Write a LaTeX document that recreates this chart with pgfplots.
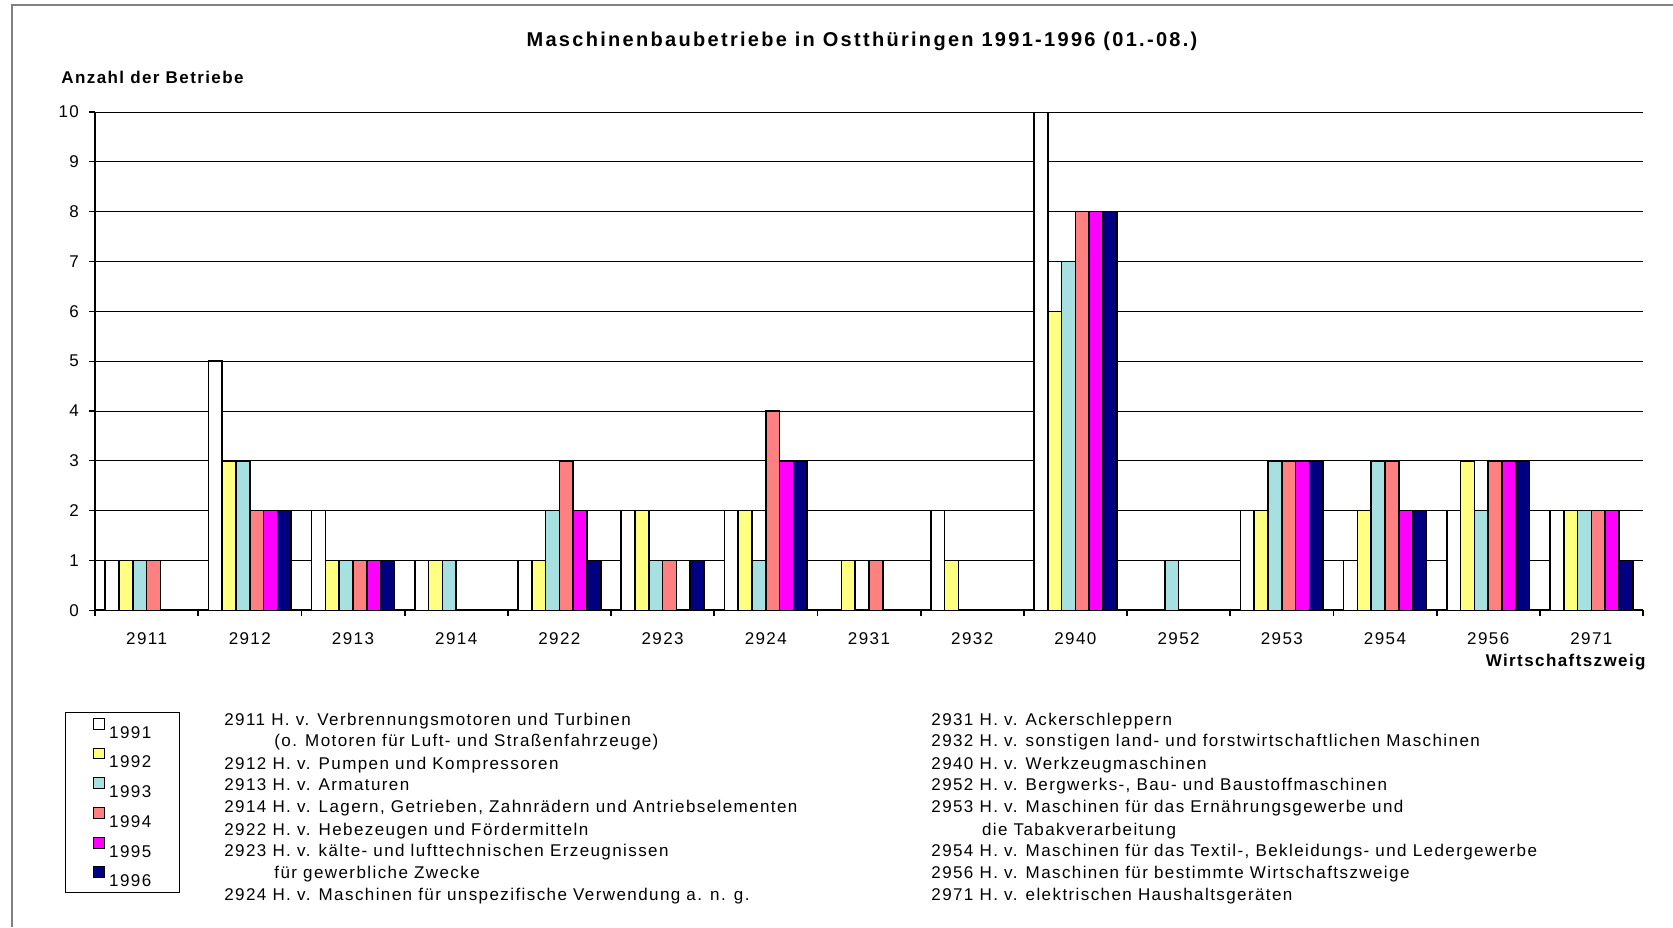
\documentclass[border=0pt]{standalone}
\usepackage{fontspec}
\setmainfont{Liberation Sans}
\newfontfamily\lsfont[LetterSpace=8.3]{Liberation Sans}
\usepackage{pgfplots}
\pgfplotsset{compat=1.18}
\usepackage{pgfplotstable}

\definecolor{c91}{HTML}{FFFFFF}
\definecolor{c92}{HTML}{FFFF80}
\definecolor{c93}{HTML}{A6E0E0}
\definecolor{c94}{HTML}{FF8080}
\definecolor{c95}{HTML}{FF00FF}
\definecolor{c96}{HTML}{000080}
\definecolor{framegray}{HTML}{808080}

\newcommand\tf{\lsfont\fontsize{8.5}{10.95}\selectfont}
\newcommand\bft{\lsfont\bfseries\fontsize{8.5}{10}\selectfont}

\pgfplotstableread{
x y1991 y1992 y1993 y1994 y1995 y1996
0 1 1 1 1 0 0
1 5 3 3 2 2 2
2 2 1 1 1 1 1
3 1 1 1 0 0 0
4 1 1 2 3 2 1
5 2 2 1 1 0 1
6 2 2 1 4 3 3
7 0 1 0 1 0 0
8 2 1 0 0 0 0
9 10 6 7 8 8 8
10 0 0 1 0 0 0
11 2 2 3 3 3 3
12 1 2 3 3 2 2
13 2 3 2 3 3 3
14 2 2 2 2 2 1
}\datatable

\begin{document}
\begin{tikzpicture}[x=1pt,y=1pt]
\path[use as bounding box] (0,0) rectangle (836.5,463.5);
\draw[framegray, line width=0.8pt] (6,0) -- (6,461) -- (836.5,461);
\begin{axis}[
  at={(47.5pt,158.35pt)}, anchor=south west,
  scale only axis, width=774pt, height=249.15pt,
  ybar=0pt, bar width=6.9pt,
  xmin=-0.5, xmax=14.5, ymin=0, ymax=10,
  xtick={0,...,14},
  xticklabels={\mbox{2911},\mbox{2912},\mbox{2913},\mbox{2914},\mbox{2922},\mbox{2923},\mbox{2924},\mbox{2931},\mbox{2932},\mbox{2940},\mbox{2952},\mbox{2953},\mbox{2954},\mbox{2956},\mbox{2971}},
  major x tick style={draw=none},
  minor xtick={-0.5,0.5,...,14.5},
  minor x tick style={draw=black, line width=0.9pt},
  minor tick length=3pt,
  ytick={0,...,10},
  major tick length=3pt,
  y tick style={draw=black, line width=0.6pt},
  tick align=outside,
  axis x line*=bottom, axis y line*=left,
  axis line style={-, line width=0.9pt},
  ymajorgrids, grid style={black, line width=0.45pt},
  /pgf/number format/assume math mode=true,
  ticklabel style={font=\tf},
  xticklabel style={anchor=base, yshift=-14pt},
  yticklabel style={anchor=east, xshift=-1.5pt},
  legend style={at={(axis description cs:-0.0194,-0.204)}, anchor=north west,
    draw=black, line width=0.4pt, font=\tf,
    nodes={inner sep=0pt, text height=6.2pt, text depth=0pt},
    row sep=4.7pt, column sep=2pt, inner xsep=14pt, inner ysep=2.8pt},
  legend cell align=left,
  legend image code/.code={\draw[#1, draw=black, line width=0.5pt] (0pt,1.4pt) rectangle (5.4pt,6.8pt);},
]
\addplot[fill=c91, draw=black, line width=0.8pt] table[x=x,y=y1991] {\datatable};
\addplot[fill=c92, draw=black, line width=0.8pt] table[x=x,y=y1992] {\datatable};
\addplot[fill=c93, draw=black, line width=0.8pt] table[x=x,y=y1993] {\datatable};
\addplot[fill=c94, draw=black, line width=0.8pt] table[x=x,y=y1994] {\datatable};
\addplot[fill=c95, draw=black, line width=0.8pt] table[x=x,y=y1995] {\datatable};
\addplot[fill=c96, draw=black, line width=0.8pt] table[x=x,y=y1996] {\datatable};
\legend{1991,1992,1993,1994,1995,1996}
\end{axis}
\node[anchor=base, inner sep=0pt] at (431,440.2) {\lsfont\bfseries\fontsize{10}{12}\selectfont\addfontfeature{LetterSpace=11.5}Maschinenbaubetriebe in Ostthüringen 1991-1996 (01.-08.)};
\node[anchor=base west, inner sep=0pt] at (30.5,421.95) {\bft Anzahl der Betriebe};
\node[anchor=base east, inner sep=0pt] at (823,130.2) {\bft Wirtschaftszweig};
% left column
\begin{scope}[every node/.style={anchor=base west, inner sep=0pt, font=\tf}]
\node at (112,100.9) {2911 H. v. Verbrennungsmotoren und Turbinen};
\node at (137,90.25) {(o. Motoren für Luft- und Straßenfahrzeuge)};
\node at (112,79.0) {2912 H. v. Pumpen und Kompressoren};
\node at (112,68.35) {2913 H. v. Armaturen};
\node at (112,57.15) {2914 H. v. Lagern, Getrieben, Zahnrädern und Antriebselementen};
\node at (112,45.95) {2922 H. v. Hebezeugen und Fördermitteln};
\node at (112,35.25) {2923 H. v. kälte- und lufttechnischen Erzeugnissen};
\node at (137,24.05) {für gewerbliche Zwecke};
\node at (112,13.4) {2924 H. v. Maschinen für unspezifische Verwendung a. n. g.};
% right column
\node at (465.5,100.9) {2931 H. v. Ackerschleppern};
\node at (465.5,90.25) {2932 H. v. sonstigen land- und forstwirtschaftlichen Maschinen};
\node at (465.5,79.0) {2940 H. v. Werkzeugmaschinen};
\node at (465.5,68.35) {2952 H. v. Bergwerks-, Bau- und Baustoffmaschinen};
\node at (465.5,57.15) {2953 H. v. Maschinen für das Ernährungsgewerbe und};
\node at (490.8,45.95) {die Tabakverarbeitung};
\node at (465.5,35.25) {2954 H. v. Maschinen für das Textil-, Bekleidungs- und Ledergewerbe};
\node at (465.5,24.05) {2956 H. v. Maschinen für bestimmte Wirtschaftszweige};
\node at (465.5,13.4) {2971 H. v. elektrischen Haushaltsgeräten};
\end{scope}
\end{tikzpicture}
\end{document}
